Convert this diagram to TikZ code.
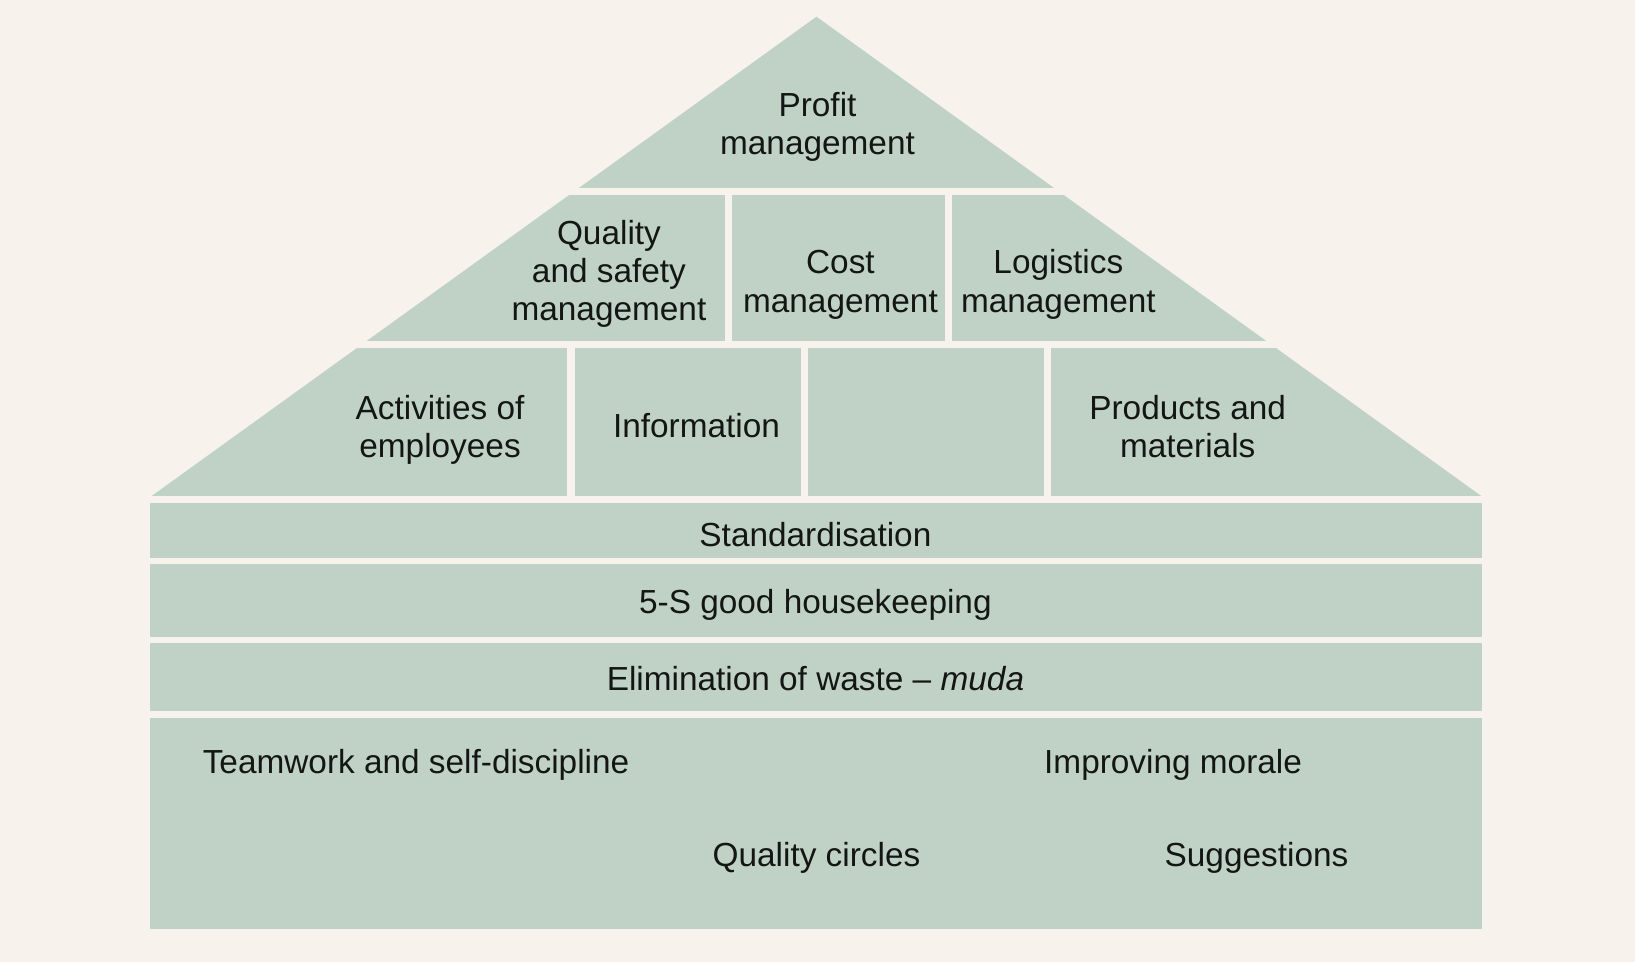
\documentclass[tikz,border=0pt]{standalone}
\usepackage{fontspec}
\setmainfont{Liberation Sans}
\definecolor{bgcol}{RGB}{247,243,236}
\definecolor{sage}{RGB}{192,210,198}
\definecolor{ink}{RGB}{20,22,20}
\newcommand\topstrut{\rule{0pt}{30pt}}
\newcommand\botstrut{\rule[-30pt]{0pt}{30pt}}
\tikzset{
  lbl/.style={font=\fontsize{32}{36.5}\selectfont, text=ink, align=center, inner sep=0pt},
  cell/.style={fill=sage}
}
\begin{document}
\begin{tikzpicture}[x=1pt,y=-1pt]
\useasboundingbox (0,0) rectangle (1568,923);
\fill[bgcol] (0,0) rectangle (1568,923);
% roof
\begin{scope}
\clip (783,16) -- (145,476) -- (1421,476) -- cycle;
\fill[cell] (0,0) rectangle (1568,180);
\fill[cell] (0,187) rectangle (695,327);
\fill[cell] (702,187) rectangle (906,327);
\fill[cell] (913,187) rectangle (1568,327);
\fill[cell] (0,334) rectangle (544,476);
\fill[cell] (551,334) rectangle (768,476);
\fill[cell] (775,334) rectangle (1001,476);
\fill[cell] (1008,334) rectangle (1568,476);
\end{scope}
% bands
\fill[cell] (144,482) rectangle (1421,535);
\fill[cell] (144,541) rectangle (1421,611);
\fill[cell] (144,617) rectangle (1421,682);
\fill[cell] (144,689) rectangle (1421,891);
% labels (node centre = midpoint of first and last baselines)
\node[lbl] (profit) at (784,129.5) {\topstrut Profit\\management\botstrut};
\node[lbl] (quality) at (584,270.5) {\topstrut Quality\\and safety\\management\botstrut};
\node[lbl] (cost) at (806,281) {\topstrut Cost\\management\botstrut};
\node[lbl] (logistics) at (1015,281) {\topstrut Logistics\\management\botstrut};
\node[lbl] (activities) at (422,420.5) {\topstrut Activities of\\employees\botstrut};
\node[lbl] (information) at (668,420) {\topstrut Information\botstrut};
\node[lbl] (products) at (1139,420.5) {\topstrut Products and\\materials\botstrut};
\node[lbl] (standard) at (782,524) {\topstrut Standardisation\botstrut};
\node[lbl] (fives) at (782,588.5) {\topstrut 5-S good housekeeping\botstrut};
\node[lbl] (waste) at (782,662) {\topstrut Elimination of waste -- \textit{muda}\botstrut};
\node[lbl] (teamwork) at (399,741.5) {\topstrut Teamwork and self-discipline\botstrut};
\node[lbl] (morale) at (1125,741.5) {\topstrut Improving morale\botstrut};
\node[lbl] (circles) at (783,831) {\topstrut Quality circles\botstrut};
\node[lbl] (suggestions) at (1205,831) {\topstrut Suggestions\botstrut};
\end{tikzpicture}
\end{document}
